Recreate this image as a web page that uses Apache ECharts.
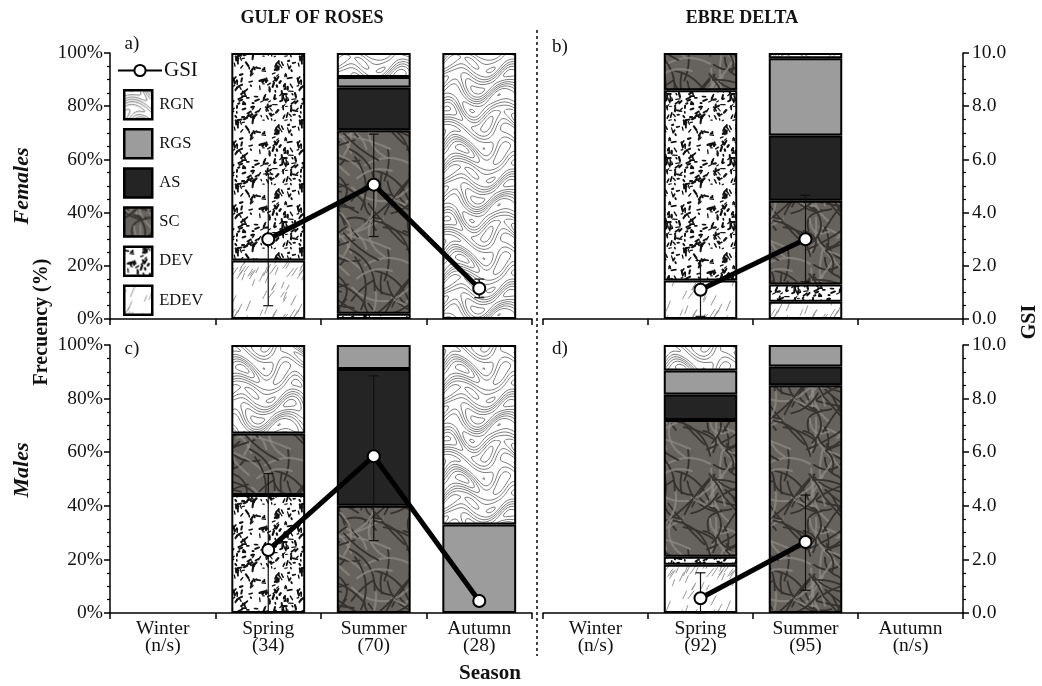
<!DOCTYPE html>
<html>
<head>
<meta charset="utf-8">
<script src="https://cdn.jsdelivr.net/npm/echarts@6/dist/echarts.min.js"></script>
<style>
  html, body { margin: 0; padding: 0; background: #fff; }
  #chart { width: 1042px; height: 686px; }
</style>
</head>
<body>
<div id="chart"></div>
<script>
// ---- data ----
const seasons = ['Winter', 'Spring', 'Summer', 'Autumn'];
const gulfN = ['n/s', '34', '70', '28'];
const ebreN = ['n/s', '92', '95', 'n/s'];

// maturity classes, stacked bottom -> top
const classes = ['EDEV', 'DEV', 'SC', 'AS', 'RGS', 'RGN'];

// frequency (%) per class (rows follow `classes`), columns follow `seasons`
const gulfFemales = [
  [null, 22, null, null],   // EDEV
  [null, 78, 2, null],      // DEV
  [null, null, 69, null],   // SC
  [null, null, 16, null],   // AS
  [null, null, 4, null],    // RGS
  [null, null, 9, 100]      // RGN
];
const ebreFemales = [
  [null, 14.5, 6.5, null],
  [null, 71.5, 6.5, null],
  [null, 14, 31.5, null],
  [null, null, 24.5, null],
  [null, null, 29, null],
  [null, null, 2, null]
];
const gulfMales = [
  [null, null, null, null],
  [null, 44, null, null],
  [null, 23, 40, null],
  [null, null, 51, null],
  [null, null, 9, 33],
  [null, 33, null, 67]
];
const ebreMales = [
  [null, 18, null, null],
  [null, 3, null, null],
  [null, 51, 85, null],
  [null, 9.5, 7, null],
  [null, 9, 8, null],
  [null, 9.5, null, null]
];

// gonadosomatic index: mean and [low, high] error range
const gsiGulfFemales = [null, 3.0, 5.05, 1.15];
const gsiGulfFemalesErr = [null, [0.5, 5.45], [3.1, 6.95], [0.8, 1.5]];
const gsiEbreFemales = [null, 1.1, 3.0, null];
const gsiEbreFemalesErr = [null, [0.1, 2.2], [1.4, 4.65], null];
const gsiGulfMales = [null, 2.35, 5.85, 0.45];
const gsiGulfMalesErr = [null, [0.0, 5.2], [2.7, 8.85], null];
const gsiEbreMales = [null, 0.55, 2.65, null];
const gsiEbreMalesErr = [null, [0.0, 1.5], [0.85, 4.4], null];

// ---- fill textures ----
function rng(seed) {
  let s = seed >>> 0;
  return function () {
    s = (s + 0x6D2B79F5) >>> 0;
    let t = s;
    t = Math.imul(t ^ (t >>> 15), t | 1);
    t ^= t + Math.imul(t ^ (t >>> 7), t | 61);
    return ((t ^ (t >>> 14)) >>> 0) / 4294967296;
  };
}
function tile(size, bg, draw) {
  const c = document.createElement('canvas');
  c.width = c.height = size;
  const ctx = c.getContext('2d');
  ctx.fillStyle = bg;
  ctx.fillRect(0, 0, size, size);
  draw(ctx, size);
  return c;
}
function wrapped(ctx, S, fn) {
  for (const dx of [-S, 0, S]) for (const dy of [-S, 0, S]) {
    ctx.save(); ctx.translate(dx, dy); fn(ctx); ctx.restore();
  }
}

// contour-line texture: iso-lines of a smooth periodic field (marching squares)
const texRGN = tile(110, '#ffffff', (ctx, S) => {
  const TAU = Math.PI * 2;
  const f = (x, y) => {
    const u = TAU * x / S, v = TAU * y / S;
    return Math.sin(3 * v + 1.6 * Math.sin(2 * u + 0.7 * Math.cos(v)))
      + 0.45 * Math.cos(u + 2 * v + 0.5)
      + 0.3 * Math.sin(3 * u - v);
  };
  const N = S;
  const val = [];
  for (let j = 0; j <= N; j++) {
    val.push([]);
    for (let i = 0; i <= N; i++) val[j].push(f(i, j));
  }
  ctx.strokeStyle = '#6e6e6e';
  ctx.lineWidth = 0.9;
  ctx.beginPath();
  const levels = [-1.5, -1.0, -0.5, 0, 0.5, 1.0, 1.5];
  for (const L of levels) {
    for (let j = 0; j < N; j++) for (let i = 0; i < N; i++) {
      const a = val[j][i], b = val[j][i + 1], c = val[j + 1][i + 1], d = val[j + 1][i];
      const pts = [];
      const edge = (v1, v2, x1, y1, x2, y2) => {
        if ((v1 < L) !== (v2 < L)) {
          const t = (L - v1) / (v2 - v1);
          pts.push([x1 + (x2 - x1) * t, y1 + (y2 - y1) * t]);
        }
      };
      edge(a, b, i, j, i + 1, j);
      edge(b, c, i + 1, j, i + 1, j + 1);
      edge(c, d, i + 1, j + 1, i, j + 1);
      edge(d, a, i, j + 1, i, j);
      if (pts.length >= 2) { ctx.moveTo(pts[0][0], pts[0][1]); ctx.lineTo(pts[1][0], pts[1][1]); }
      if (pts.length === 4) { ctx.moveTo(pts[2][0], pts[2][1]); ctx.lineTo(pts[3][0], pts[3][1]); }
    }
  }
  ctx.stroke();
});

const texDEV = tile(64, '#ffffff', (ctx, S) => {
  const r = rng(7);
  ctx.strokeStyle = '#111';
  ctx.lineCap = 'round';
  for (let i = 0; i < 170; i++) {
    const x = r() * S, y = r() * S;
    const a = -Math.PI / 3 + (r() - 0.5) * 2.4;
    const len = 1 + r() * 3.5;
    const lw = 1.1 + r() * 1.2;
    wrapped(ctx, S, c => {
      c.lineWidth = lw;
      c.beginPath();
      c.moveTo(x, y);
      c.lineTo(x + Math.cos(a) * len, y + Math.sin(a) * len);
      c.stroke();
    });
  }
});

const texSC = tile(100, '#66625e', (ctx, S) => {
  const r = rng(11);
  ctx.lineCap = 'round';
  for (let i = 0; i < 60; i++) {
    const x = r() * S, y = r() * S;
    const a = r() * Math.PI * 2, len = 20 + r() * 35;
    const bend = (r() - 0.5) * 36;
    const ex = x + Math.cos(a) * len, ey = y + Math.sin(a) * len;
    const cx = (x + ex) / 2 - Math.sin(a) * bend, cy = (y + ey) / 2 + Math.cos(a) * bend;
    const light = i % 3 === 0;
    wrapped(ctx, S, c => {
      c.strokeStyle = light ? 'rgba(140,136,131,0.75)' : '#35322f';
      c.lineWidth = light ? 2.2 : 1.8;
      c.beginPath();
      c.moveTo(x, y);
      c.quadraticCurveTo(cx, cy, ex, ey);
      c.stroke();
    });
  }
});

const texEDEV = tile(60, '#ffffff', (ctx, S) => {
  const r = rng(3);
  ctx.strokeStyle = '#8a8a8a';
  ctx.lineWidth = 0.9;
  for (let i = 0; i < 46; i++) {
    const x = r() * S, y = r() * S;
    const a = -Math.PI / 3 + (r() - 0.5) * 0.35;
    const len = 6 + r() * 6;
    wrapped(ctx, S, c => {
      c.beginPath();
      c.moveTo(x, y);
      c.lineTo(x + Math.cos(a) * len, y + Math.sin(a) * len);
      c.stroke();
    });
  }
});

const fills = {
  EDEV: { image: texEDEV, repeat: 'repeat' },
  DEV: { image: texDEV, repeat: 'repeat' },
  SC: { image: texSC, repeat: 'repeat' },
  AS: '#242424',
  RGS: '#9c9c9c',
  RGN: { image: texRGN, repeat: 'repeat' }
};

// ---- layout ----
const FONT = 'Liberation Serif';
const grids = [
  { left: 110, top: 53, width: 422, height: 266 },
  { left: 543, top: 53, width: 420, height: 266 },
  { left: 110, top: 345, width: 422, height: 268 },
  { left: 543, top: 345, width: 420, height: 268 }
];
const panels = [
  { comp: gulfFemales, gsi: gsiGulfFemales, err: gsiGulfFemalesErr, n: gulfN, bottom: false, right: false },
  { comp: ebreFemales, gsi: gsiEbreFemales, err: gsiEbreFemalesErr, n: ebreN, bottom: false, right: true },
  { comp: gulfMales, gsi: gsiGulfMales, err: gsiGulfMalesErr, n: gulfN, bottom: true, right: false },
  { comp: ebreMales, gsi: gsiEbreMales, err: gsiEbreMalesErr, n: ebreN, bottom: true, right: true }
];

const axisText = { fontFamily: FONT, fontSize: 19.5, color: '#111' };
const xAxes = [], yAxes = [], series = [];

panels.forEach((p, g) => {
  xAxes.push({
    type: 'category', gridIndex: g,
    data: seasons.map((s, i) => s + '\n(' + p.n[i] + ')'),
    axisLine: { lineStyle: { color: '#000', width: 1.5 } },
    axisTick: { show: true, length: 6, interval: 0, lineStyle: { color: '#000', width: 1.5 } },
    axisLabel: { show: p.bottom, interval: 0, margin: 7, lineHeight: 17, ...axisText }
  });
  // percent axis
  yAxes.push({
    type: 'value', gridIndex: g, min: 0, max: 100, interval: 20, show: !p.right,
    position: 'left',
    splitLine: { show: false },
    axisLine: { show: true, lineStyle: { color: '#000', width: 1.5 } },
    axisTick: { show: true, length: 6, lineStyle: { color: '#000', width: 1.5 } },
    minorTick: { show: true, splitNumber: 4, length: 3, lineStyle: { color: '#000', width: 1.2 } },
    axisLabel: { margin: 7, formatter: v => v + '%', ...axisText }
  });
  // GSI axis
  yAxes.push({
    type: 'value', gridIndex: g, min: 0, max: 10, interval: 2, show: p.right,
    position: 'right',
    splitLine: { show: false },
    axisLine: { show: true, lineStyle: { color: '#000', width: 1.5 } },
    axisTick: { show: true, length: 6, lineStyle: { color: '#000', width: 1.5 } },
    minorTick: { show: true, splitNumber: 4, length: 3, lineStyle: { color: '#000', width: 1.2 } },
    axisLabel: { margin: 9, formatter: v => v.toFixed(1), ...axisText }
  });

  classes.forEach((c, k) => {
    series.push({
      type: 'bar', name: c, stack: 'panel' + g,
      xAxisIndex: g, yAxisIndex: 2 * g,
      barWidth: '70%', z: 2,
      itemStyle: { color: fills[c], borderColor: '#000', borderWidth: 2 },
      data: p.comp[k]
    });
  });

  series.push({
    type: 'custom', name: 'GSI range', xAxisIndex: g, yAxisIndex: 2 * g + 1, z: 3,
    data: p.err.map((e, i) => e ? [i, e[0], e[1]] : null).filter(d => d),
    renderItem(params, api) {
      const x = api.value(0);
      const lo = api.coord([x, api.value(1)]);
      const hi = api.coord([x, api.value(2)]);
      const w = 5;
      const st = { stroke: '#111', lineWidth: 1.2 };
      return {
        type: 'group', children: [
          { type: 'line', shape: { x1: lo[0], y1: lo[1], x2: hi[0], y2: hi[1] }, style: st },
          { type: 'line', shape: { x1: hi[0] - w, y1: hi[1], x2: hi[0] + w, y2: hi[1] }, style: st },
          { type: 'line', shape: { x1: lo[0] - w, y1: lo[1], x2: lo[0] + w, y2: lo[1] }, style: st }
        ]
      };
    }
  });

  series.push({
    type: 'line', name: 'GSI', xAxisIndex: g, yAxisIndex: 2 * g + 1, z: 4,
    data: p.gsi,
    symbol: 'circle', symbolSize: 12,
    lineStyle: { color: '#000', width: 5 },
    itemStyle: { color: '#fff', borderColor: '#000', borderWidth: 2 }
  });
});

const txt = (text, x, y, extra) => ({
  type: 'text', x, y,
  style: Object.assign({ text, fontFamily: FONT, fontSize: 19, fill: '#111', align: 'center', verticalAlign: 'middle' }, extra || {})
});
const vtxt = (text, x, y, extra) => Object.assign(txt(text, x, y, extra), { rotation: Math.PI / 2 });

const option = {
  animation: false,
  backgroundColor: '#fff',
  grid: grids,
  xAxis: xAxes,
  yAxis: yAxes,
  series,
  legend: [
    {
      data: ['GSI'], left: 117, top: 60, orient: 'vertical', padding: 0,
      itemWidth: 44, itemHeight: 14, selectedMode: false,
      lineStyle: { width: 2 },
      textStyle: { fontFamily: FONT, fontSize: 21, color: '#111', padding: [0, 0, 0, -3] }
    },
    {
      data: classes.slice().reverse().map(c => ({ name: c, icon: 'rect' })),
      left: 123, top: 89, orient: 'vertical', padding: 0,
      itemWidth: 28, itemHeight: 29, itemGap: 7.6, selectedMode: false,
      itemStyle: { borderColor: '#000', borderWidth: 2.5 },
      textStyle: { fontFamily: FONT, fontSize: 16.5, color: '#111', padding: [0, 0, 0, 2] }
    }
  ],
  graphic: [
    txt('GULF OF ROSES', 312, 18, { fontWeight: 'bold', fontSize: 18 }),
    txt('EBRE DELTA', 742, 18, { fontWeight: 'bold', fontSize: 18 }),
    txt('a)', 132, 44),
    txt('b)', 560, 47),
    txt('c)', 132, 349),
    txt('d)', 560, 349),
    txt('Season', 490, 674, { fontWeight: 'bold', fontSize: 21 }),
    vtxt('Frecuency (%)', 42, 322, { fontWeight: 'bold', fontSize: 20 }),
    vtxt('Females', 22, 186, { fontWeight: 'bold', fontStyle: 'italic', fontSize: 22 }),
    vtxt('Males', 22, 470, { fontWeight: 'bold', fontStyle: 'italic', fontSize: 22 }),
    vtxt('GSI', 1030, 322, { fontWeight: 'bold', fontSize: 20 }),
    {
      type: 'line', shape: { x1: 537, y1: 30, x2: 537, y2: 656 },
      style: { stroke: '#444', lineWidth: 2, lineDash: [3, 3] }
    }
  ]
};

const chart = echarts.init(document.getElementById('chart'), null, { renderer: 'canvas' });
chart.setOption(option);
</script>
</body>
</html>
